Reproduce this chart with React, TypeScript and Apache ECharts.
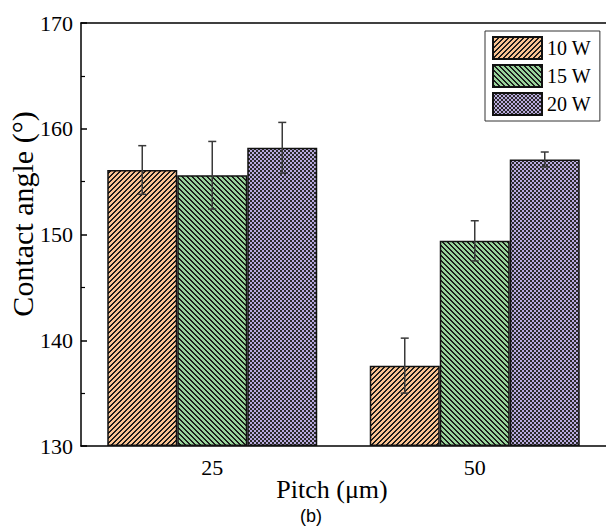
import React, { useEffect, useRef } from 'react';
import * as echarts from 'echarts';

const categories = ['25', '50'];
const seriesNames = ['10 W', '15 W', '20 W'];
const values10W = [156.1, 137.6];
const errors10W = [2.3, 2.6];
const values15W = [155.6, 149.4];
const errors15W = [3.2, 1.9];
const values20W = [158.2, 157.1];
const errors20W = [2.4, 0.7];
const yMin = 130;
const yMax = 170;
const yInterval = 10;

const SERIF = 'Liberation Serif';

function makeTile(size: number, bg: string, fg: string, isDark: (x: number, y: number) => boolean) {
  const c = document.createElement('canvas');
  c.width = size;
  c.height = size;
  const ctx = c.getContext('2d')!;
  ctx.fillStyle = bg;
  ctx.fillRect(0, 0, size, size);
  ctx.fillStyle = fg;
  for (let y = 0; y < size; y++) {
    for (let x = 0; x < size; x++) {
      if (isDark(x, y)) ctx.fillRect(x, y, 1, 1);
    }
  }
  return { image: c, repeat: 'repeat', imageWidth: size, imageHeight: size } as any;
}

export default function App() {
  const ref = useRef<HTMLDivElement>(null);
  useEffect(() => {
    if (!ref.current) return;
    const chart = echarts.init(ref.current, undefined, { renderer: 'svg' });

    const dark = '#1c1c1c';
    const orangePat = makeTile(5, '#FAC391', dark, (x, y) => (x + y) % 5 < 2);
    const greenPat = makeTile(5, '#98D49A', dark, (x, y) => ((x - y) % 5 + 5) % 5 < 2);
    const purplePat = makeTile(4, '#B9AADF', '#2a2a2a', (x, y) => ((x >> 1) + (y >> 1)) % 2 === 1);
    const patterns = [orangePat, greenPat, purplePat];
    const vals = [values10W, values15W, values20W];
    const errs = [errors10W, errors15W, errors20W];

    const barSeries = seriesNames.map((name, i) => ({
      name,
      type: 'bar',
      xAxisIndex: 0,
      yAxisIndex: 0,
      data: vals[i],
      barGap: '0%',
      barCategoryGap: '20%',
      itemStyle: { color: patterns[i], borderColor: '#111', borderWidth: 1.5 },
      z: 2,
    }));

    const errSeries = seriesNames.map((name, i) => ({
      name: name + ' error',
      type: 'custom',
      xAxisIndex: 0,
      yAxisIndex: 0,
      z: 4,
      data: categories.map((_, k) => [k, vals[i][k], errs[i][k]]),
      encode: { x: 0, y: 1 },
      renderItem: (params: any, api: any) => {
        const k = api.value(0);
        const v = api.value(1);
        const e = api.value(2);
        const band = api.size([1, 0])[0];
        const offset = (i - 1) * (band * 0.8) / 3;
        const top = api.coord([k, v + e]);
        const bot = api.coord([k, v - e]);
        const x = top[0] + offset;
        const cap = 4;
        const st = { stroke: '#3a3a3a', lineWidth: 1.5 };
        return {
          type: 'group',
          children: [
            { type: 'line', shape: { x1: x, y1: top[1], x2: x, y2: bot[1] }, style: st },
            { type: 'line', shape: { x1: x - cap, y1: top[1], x2: x + cap, y2: top[1] }, style: st },
            { type: 'line', shape: { x1: x - cap, y1: bot[1], x2: x + cap, y2: bot[1] }, style: st },
          ],
        };
      },
    }));

    chart.setOption({
      animation: false,
      backgroundColor: '#fff',
      grid: { left: 81, top: 23, width: 526, height: 423, containLabel: false },
      legend: {
        data: seriesNames,
        orient: 'vertical',
        left: 485,
        top: 31,
        padding: [5, 9, 5, 7],
        itemWidth: 49,
        itemHeight: 22,
        itemGap: 4,
        icon: 'rect',
        backgroundColor: '#fff',
        borderColor: '#333',
        borderWidth: 1,
        borderRadius: 0,
        textStyle: { fontFamily: SERIF, fontSize: 20, color: '#000' },
      },
      xAxis: [
        {
          type: 'category',
          data: categories,
          axisLine: { lineStyle: { color: '#000', width: 1.5 } },
          axisTick: { show: false },
          axisLabel: { fontFamily: SERIF, fontSize: 22, color: '#000', margin: 10 },
          splitLine: { show: false },
        },
        {
          type: 'category',
          position: 'top',
          data: categories,
          axisLine: { show: true, lineStyle: { color: '#000', width: 1.5 } },
          axisTick: { show: false },
          axisLabel: { show: false },
          splitLine: { show: false },
        },
      ],
      yAxis: [
        {
          type: 'value',
          min: yMin,
          max: yMax,
          interval: yInterval,
          startValue: yMin,
          axisLine: { show: true, lineStyle: { color: '#000', width: 1.5 } },
          axisTick: { show: true, inside: true, length: 6, lineStyle: { color: '#000', width: 1.5 } },
          minorTick: { show: true, splitNumber: 2, length: 4, lineStyle: { color: '#000', width: 1.2 } },
          splitLine: { show: false },
          axisLabel: { fontFamily: SERIF, fontSize: 22, color: '#000', margin: 8 },
        },
      ],
      graphic: [
        {
          type: 'text',
          x: 22,
          y: 214,
          rotation: Math.PI / 2,
          style: {
            text: 'Contact angle (°)',
            fontFamily: SERIF,
            fontSize: 30,
            fill: '#000',
            textAlign: 'center',
            textVerticalAlign: 'middle',
          },
        },
        {
          type: 'text',
          x: 332,
          y: 489,
          style: {
            text: 'Pitch (μm)',
            fontFamily: SERIF,
            fontSize: 26,
            fill: '#000',
            textAlign: 'center',
            textVerticalAlign: 'middle',
          },
        },
        {
          type: 'text',
          x: 311,
          y: 516,
          style: {
            text: '(b)',
            fontFamily: 'Liberation Sans',
            fontSize: 18,
            fill: '#000',
            textAlign: 'center',
            textVerticalAlign: 'middle',
          },
        },
      ],
      series: [...barSeries, ...errSeries],
    });
    return () => chart.dispose();
  }, []);
  return <div ref={ref} style={{ position: 'fixed', left: 0, top: 0, width: 606, height: 526 }} />;
}
